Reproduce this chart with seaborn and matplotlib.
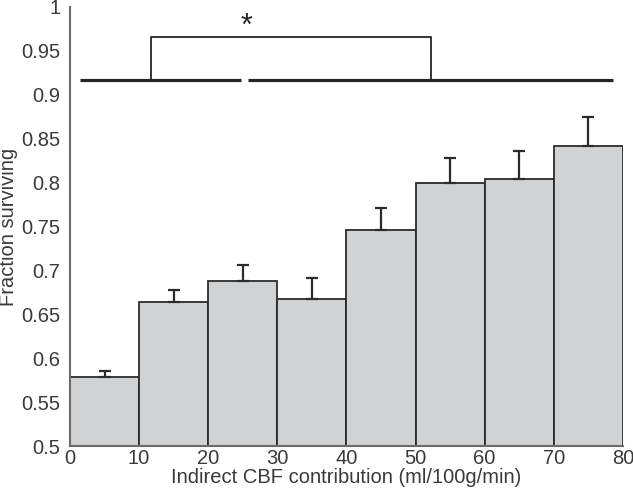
import numpy as np
import pandas as pd
import seaborn as sns
import matplotlib.pyplot as plt

# bins of indirect CBF contribution (ml/100g/min)
bin_centers = [5, 15, 25, 35, 45, 55, 65, 75]
fraction = [0.579, 0.664, 0.688, 0.668, 0.746, 0.800, 0.804, 0.842]
err_top = [0.586, 0.678, 0.706, 0.691, 0.771, 0.828, 0.836, 0.875]

yticks = [0.5, 0.55, 0.6, 0.65, 0.7, 0.75, 0.8, 0.85, 0.9, 0.95, 1]
ytick_labels = ['0.5', '0.55', '0.6', '0.65', '0.7', '0.75', '0.8', '0.85', '0.9', '0.95', '1']
xticks = [0, 10, 20, 30, 40, 50, 60, 70, 80]

txt = '#3a3a3a'
sns.set_style('white')
plt.rcParams['font.family'] = ['Liberation Sans', 'DejaVu Sans']

df = pd.DataFrame({'cbf': bin_centers, 'frac': fraction})

fig = plt.figure(figsize=(6.33, 4.94), dpi=100)
ax = fig.add_axes([0.1106, 0.097, 0.8734, 0.889])

sns.barplot(data=df, x='cbf', y='frac', native_scale=True, width=1,
            color='#d1d2d4', saturation=1, edgecolor='#2b2b2b', linewidth=1.3,
            errorbar=None, ax=ax)

up = np.array(err_top) - np.array(fraction)
ax.errorbar(bin_centers, fraction, yerr=[np.zeros(len(up)), up], fmt='none',
            ecolor='#2b2b2b', elinewidth=1.6, capsize=4.3, capthick=1.6, zorder=3)

# significance lines and bracket
ax.plot([1.4, 24.8], [0.917, 0.917], color='#262626', lw=2.3, clip_on=False, solid_capstyle='butt')
ax.plot([25.7, 78.6], [0.917, 0.917], color='#262626', lw=2.3, clip_on=False, solid_capstyle='butt')
ax.plot([11.7, 11.7, 52.2, 52.2], [0.917, 0.966, 0.966, 0.917], color='#262626', lw=1.3, clip_on=False)
ax.text(25.5, 0.977, '*', ha='center', va='center', fontsize=22, color='#262626')

ax.set_xlim(0, 80)
ax.set_ylim(0.5, 1)
ax.set_xticks(xticks)
ax.set_xticklabels([str(x) for x in xticks])
ax.set_yticks(yticks)
ax.set_yticklabels(ytick_labels)
ax.tick_params(axis='both', length=0, labelsize=14.5, colors=txt)
ax.tick_params(axis='y', pad=7)
ax.tick_params(axis='x', pad=2)
ax.set_xlabel('Indirect CBF contribution (ml/100g/min)', fontsize=14.5, color=txt, labelpad=0)
ax.set_ylabel('Fraction surviving', fontsize=14.5, color=txt, labelpad=2)

sns.despine(ax=ax)
for s in ['left', 'bottom']:
    ax.spines[s].set_color('#6b6b6b')
    ax.spines[s].set_linewidth(1.5)

plt.savefig('out.png', dpi=100)
